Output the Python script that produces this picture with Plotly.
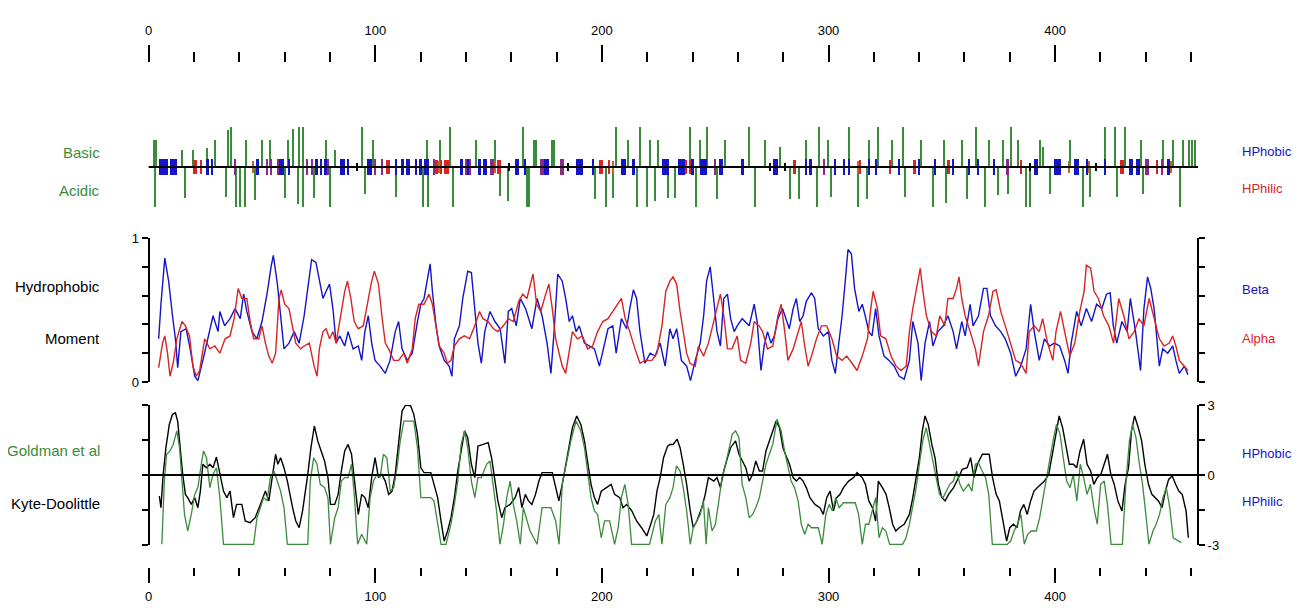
import plotly.graph_objects as go

# ---------------- data ----------------
axis_major = [0, 100, 200, 300, 400]
axis_minor = [20, 40, 60, 80, 120, 140, 160, 180, 220, 240, 260, 280,
              320, 340, 360, 380, 420, 440, 460]

# charge panel: basic (up) and acidic (down) residues, bar heights
basic_pos = [2.3, 3.5, 14.6, 19.7, 25.6, 29.3, 35.1, 36.2, 43.2, 49.9, 53.5, 61.6, 63.8,
             66.5, 68.0, 78.5, 82.2, 94.0, 99.1, 122.7, 128.6, 133.0, 144.7, 152.8, 165.3,
             170.0, 171.0, 178.0, 179.0, 206.5, 211.7, 217.1, 221.2, 224.9, 238.9, 243.3,
             246.5, 254.3, 265.0, 272.0, 278.6, 290.0, 296.0, 300.0, 309.0, 318.0, 322.0,
             328.0, 333.0, 341.0, 351.0, 359.0, 365.0, 371.0, 377.1, 380.8, 383.8, 393.3,
             394.8, 406.6, 422.0, 426.5, 430.9, 438.2, 447.7, 452.2, 456.6, 459.0, 460.5,
             462.0]
basic_h = [0.67, 0.67, 0.42, 0.42, 0.47, 0.67, 0.92, 1.0, 0.67, 0.67, 0.67, 0.67, 0.95,
           1.0, 1.0, 0.67, 0.42, 1.0, 0.67, 0.67, 0.67, 1.0, 0.67, 0.67, 1.0,
           0.67, 0.67, 0.67, 0.67, 1.0, 0.67, 1.0, 0.67, 0.67, 1.0, 0.67,
           1.0, 0.67, 1.0, 0.67, 0.5, 0.67, 1.0, 0.67, 1.0, 0.67, 1.0,
           0.67, 1.0, 0.67, 0.67, 0.67, 1.0, 0.67, 0.67, 1.0, 0.67, 0.67,
           0.5, 0.67, 1.0, 1.0, 1.0, 0.67, 0.67, 0.67, 0.67, 0.67, 0.67,
           0.67]
acidic_pos = [2.8, 16.0, 34.4, 38.8, 40.3, 42.5, 46.9, 60.2, 66.0, 68.2, 73.0, 80.0, 95.5,
              109.4, 121.2, 123.4, 134.4, 155.0, 158.7, 167.0, 168.0, 197.0, 202.1, 205.0,
              215.4, 219.8, 223.4, 229.3, 232.3, 241.8, 250.7, 267.6, 283.0, 287.0, 295.0,
              301.0, 313.0, 317.0, 334.0, 346.0, 352.0, 361.0, 369.0, 375.0, 379.3, 387.4,
              388.9, 397.7, 412.4, 415.4, 427.2, 438.9, 455.1]
acidic_h = [-1.0, -0.78, -0.75, -1.0, -1.0, -1.0, -0.83, -0.78, -0.92, -1.0, -0.78, -1.0, -0.67,
            -0.75, -1.0, -1.0, -1.0, -0.73, -0.85, -1.0, -1.0, -0.8, -1.0, -0.78,
            -1.0, -1.0, -0.85, -0.78, -0.78, -1.0, -0.8, -1.0, -0.8, -0.8, -1.0,
            -0.75, -1.0, -0.8, -0.75, -1.0, -0.9, -0.8, -1.0, -0.7, -0.67, -1.0,
            -1.0, -0.67, -1.0, -0.75, -0.75, -0.67, -1.0]
hphobic_pos = [5, 6, 7, 8, 10, 11, 12, 26, 28, 48, 58, 59, 62, 74, 76, 78, 85, 86, 88, 97, 98,
               109, 112, 114, 115, 118, 120, 122, 123, 138, 141, 146, 148, 149, 162, 163, 166,
               175, 176, 189, 190, 191, 196, 209, 210, 214, 227, 228, 229, 234, 235, 236, 240,
               244, 245, 246, 252, 253, 262, 276, 277, 290, 292, 303, 307, 309, 318, 321, 331,
               340, 347, 355, 362, 366, 373, 391, 392, 400, 401, 402, 409, 410, 414, 422, 433,
               434, 436, 437, 450]
hphilic_pos = [20, 21, 23, 105, 106, 127, 129, 131, 132, 154, 155, 199, 200, 203, 237, 239,
               285, 314, 327, 338, 353, 385, 429, 430, 445]
amphi_pos = [38, 52, 54, 57, 70, 72, 79, 100, 103, 126, 140, 142, 151, 152, 173, 174, 182,
             183, 250, 298, 379, 440, 441, 447]
orange_pos = [46, 128, 153, 205, 313, 406, 415, 451]
neutral_pos = [92, 159, 185, 274, 281, 389, 418]

# hydrophobic moment (0..1)
beta_x = [4.4, 5.4, 7.1, 8.8, 10.5, 11.8, 12.8, 14.2, 16.5, 18.3, 20.3, 21.7, 23.9, 26.2, 28.4,
          30.6, 31.4, 33.5, 35.9, 38.1, 40.4, 41.9, 43.3, 45.6, 47.7, 50.0, 52.2, 54.0, 55.0,
          56.8, 58.2, 59.7, 61.9, 64.2, 66.4, 68.6, 70.2, 71.9, 73.8, 75.3, 76.9, 78.3, 79.8,
          81.3, 82.7, 84.3, 86.5, 88.0, 90.2, 92.5, 94.0, 95.4, 96.9, 98.4, 99.9, 102.1, 104.4,
          106.5, 108.8, 110.3, 111.8, 114.1, 116.3, 118.6, 120.1, 121.5, 123.0, 124.2, 125.2,
          126.8, 128.2, 130.4, 132.6, 133.8, 134.9, 137.1, 138.6, 140.8, 142.4, 143.9, 145.3,
          146.8, 148.3, 150.6, 152.8, 155.1, 157.2, 158.7, 160.2, 162.2, 164.0, 166.3, 167.6,
          169.1, 171.4, 173.6, 175.8, 177.5, 178.9, 180.5, 182.5, 184.0, 185.6, 187.0, 188.6,
          190.0, 192.3, 194.5, 196.7, 198.9, 201.2, 202.7, 204.8, 206.3, 208.6, 210.9, 212.3,
          213.9, 215.3, 216.8, 219.0, 221.3, 223.5, 225.7, 227.9,
          230.0, 231.4, 233.0, 235.1, 237.4, 239.1, 241.2, 243.4, 244.9, 246.2, 247.8, 249.3,
          250.8, 252.3, 253.8, 255.4, 256.8, 258.4, 259.7, 261.9, 265.0, 267.2, 268.5, 270.2,
          271.6, 273.1, 274.6, 276.1, 277.7, 279.7, 281.3, 282.7, 284.4, 285.8, 287.3, 288.8,
          290.2, 292.5, 293.9, 295.5, 297.7, 300.0, 301.5, 303.0, 304.4, 306.0, 307.4, 308.6,
          310.1, 311.5, 313.4, 314.9, 316.2, 317.8, 319.2, 320.8, 322.3, 324.5, 326.7, 329.0,
          331.2, 333.4, 335.7, 337.2, 339.5, 340.9, 342.6, 344.6, 346.1, 348.3, 350.7, 352.7,
          355.0, 356.5, 358.8, 360.3, 362.5, 363.8, 366.2, 368.4, 369.9, 371.5, 373.7, 376.0,
          378.0, 380.4, 382.6, 384.8, 387.2, 389.2, 390.8, 393.0, 395.3, 397.5, 399.7, 402.0,
          404.2, 405.7, 407.1, 409.5, 411.5, 413.8, 416.1, 418.3, 420.6, 422.7, 424.3, 425.7,
          427.2, 429.5, 431.8, 433.2, 435.5, 437.7, 439.2, 440.8, 442.2, 443.7, 446.0, 447.5,
          449.7, 451.9, 453.3, 454.8, 457.1, 458.6]
beta_y = [0.30, 0.54, 0.86, 0.70, 0.46, 0.30, 0.10, 0.35, 0.37, 0.23, 0.04, 0.01, 0.15, 0.32, 0.46,
          0.35, 0.49, 0.39, 0.44, 0.51, 0.44, 0.61, 0.49, 0.35, 0.30, 0.42, 0.61, 0.80, 0.88,
          0.68, 0.44, 0.23, 0.27, 0.35, 0.27, 0.46, 0.65, 0.85, 0.83, 0.70, 0.58, 0.63, 0.68,
          0.51, 0.27, 0.32, 0.25, 0.35, 0.23, 0.25, 0.15, 0.35, 0.46, 0.27, 0.15, 0.11, 0.06,
          0.15, 0.35, 0.42, 0.23, 0.15, 0.20, 0.42, 0.54, 0.58, 0.70, 0.82, 0.63,
          0.39, 0.25, 0.15, 0.11, 0.04, 0.30, 0.39, 0.58, 0.77, 0.76, 0.49, 0.27,
          0.13, 0.35, 0.49, 0.42, 0.37, 0.13, 0.49, 0.51, 0.39, 0.58, 0.51, 0.44,
          0.37, 0.58, 0.46, 0.27, 0.06, 0.35, 0.75, 0.70, 0.58, 0.42, 0.46, 0.35,
          0.39, 0.27, 0.25, 0.23, 0.11, 0.27, 0.37, 0.39, 0.20, 0.44, 0.37, 0.51,
          0.64, 0.58, 0.35, 0.13, 0.20, 0.18, 0.27, 0.11,
          0.37, 0.30, 0.37, 0.15, 0.11, 0.01, 0.15, 0.27, 0.46, 0.70, 0.80, 0.58,
          0.35, 0.25, 0.58, 0.61, 0.44, 0.35, 0.39, 0.44, 0.39, 0.54, 0.42, 0.08,
          0.25, 0.35, 0.27, 0.32, 0.44, 0.51, 0.44, 0.37, 0.51, 0.58, 0.42, 0.46,
          0.56, 0.62, 0.58, 0.37, 0.32, 0.35, 0.15, 0.06, 0.25, 0.46, 0.70, 0.92,
          0.89, 0.65, 0.49, 0.54, 0.46, 0.35, 0.32, 0.51, 0.32, 0.18, 0.15, 0.11,
          0.04, 0.02, 0.15, 0.42, 0.27, 0.01, 0.27, 0.42, 0.25, 0.35, 0.39, 0.46,
          0.35, 0.23, 0.42, 0.32, 0.54, 0.39, 0.46, 0.65, 0.65, 0.46, 0.39, 0.35,
          0.30, 0.20, 0.04, 0.11, 0.23, 0.54, 0.35, 0.15, 0.30, 0.25, 0.27, 0.25,
          0.15, 0.06, 0.27, 0.49, 0.39, 0.51, 0.42, 0.54, 0.51, 0.61, 0.62, 0.39,
          0.27, 0.42, 0.35, 0.58, 0.35, 0.08, 0.51, 0.73, 0.65, 0.51, 0.11, 0.23,
          0.20, 0.25, 0.15, 0.06, 0.11, 0.05]

alpha_x = [4.4, 6.1, 7.1, 8.3, 9.4, 10.8, 12.4, 13.6, 14.7, 16.2, 18.0, 19.5, 21.0, 22.5, 24.7,
           27.0, 29.2, 31.4, 33.7, 35.9, 37.7, 39.5, 41.1, 43.3, 44.8, 46.3, 48.6, 50.0, 51.5,
           53.0, 54.5, 56.0, 57.5, 58.5, 60.0, 61.9, 63.5, 64.9, 67.1, 68.6, 70.9, 73.0, 74.3,
           75.3, 76.9, 78.3, 79.8, 81.3, 82.7, 84.8, 86.5, 87.7, 89.2, 90.7, 92.5, 94.7, 96.9,
           98.4, 99.6, 101.4, 102.9, 104.4, 105.9, 108.1, 110.3, 112.6, 114.1, 116.3, 117.6,
           119.2, 121.5, 123.7, 125.2, 126.8, 128.2, 130.4, 131.8, 133.4, 134.9, 137.1, 139.3,
           141.6, 143.9, 146.0, 147.5, 149.8, 152.1, 154.1, 156.5, 158.7, 160.9, 163.3, 165.1,
           166.9, 168.3, 169.6, 171.2, 173.0, 175.2, 176.6, 178.1, 179.6, 181.1, 182.5, 184.0,
           185.6, 187.0, 189.2, 191.4, 193.7, 195.9, 198.1, 200.4, 202.7, 204.8, 207.2, 208.6,
           210.3, 212.3, 214.6, 216.8, 219.0, 222.1, 224.3, 226.5, 228.2,
           230.0, 231.4, 233.0, 234.5, 235.9, 237.4, 238.9, 241.2, 242.6, 244.9, 247.0, 249.3,
           250.8, 252.3, 253.8, 255.4, 257.4, 259.7, 261.2, 263.5, 265.7, 267.2, 269.4, 270.9,
           273.1, 275.4, 277.7, 279.1, 280.7, 282.1, 284.4, 286.6, 288.0, 289.5, 291.0, 292.5,
           294.7, 296.9, 299.2, 301.5, 303.6, 306.0, 308.0, 310.4, 312.6, 314.9, 317.2, 318.5,
           319.7, 321.6, 323.0, 325.3, 327.6, 329.8, 332.0, 334.3, 335.7, 337.2, 338.7, 340.5,
           341.5, 343.2, 345.4, 347.6, 349.1, 351.3, 352.7, 355.0, 356.5, 357.6, 358.8, 360.3,
           362.5, 364.8, 366.2, 368.4, 370.6, 372.6, 374.0, 376.0, 378.0, 380.4, 382.6, 384.8,
           387.2, 388.6, 390.8, 393.0, 394.5, 396.7, 399.0, 400.4, 402.4, 404.2, 406.5, 408.7,
           410.9, 412.8, 413.8, 415.7, 417.2, 419.1, 421.4, 423.7, 425.8, 428.1, 430.3, 432.6,
           434.9, 437.0, 439.2, 441.5, 443.7, 446.0, 448.1, 450.4, 451.9, 453.3, 454.8, 457.1,
           458.6]
alpha_y = [0.10, 0.27, 0.32, 0.20, 0.04, 0.13, 0.30, 0.37, 0.42, 0.39, 0.32, 0.11, 0.04, 0.08, 0.30,
           0.23, 0.25, 0.20, 0.30, 0.32, 0.44, 0.65, 0.58, 0.58, 0.42, 0.30, 0.30, 0.39, 0.27,
           0.18, 0.13, 0.20, 0.58, 0.64, 0.54, 0.51, 0.39, 0.27, 0.23, 0.25, 0.27, 0.11, 0.04,
           0.23, 0.35, 0.37, 0.30, 0.35, 0.27, 0.46, 0.63, 0.70, 0.58, 0.42, 0.37, 0.39, 0.58,
           0.70, 0.77, 0.68, 0.46, 0.27, 0.23, 0.15, 0.15, 0.20, 0.13, 0.23, 0.44,
           0.54, 0.54, 0.61, 0.54, 0.37, 0.25, 0.20, 0.13, 0.15, 0.25, 0.30, 0.32,
           0.30, 0.39, 0.49, 0.44, 0.42, 0.37, 0.35, 0.39, 0.44, 0.42, 0.56, 0.61,
           0.58, 0.68, 0.75, 0.54, 0.49, 0.61, 0.68, 0.51, 0.30, 0.20, 0.11, 0.06,
           0.20, 0.35, 0.30, 0.32, 0.23, 0.25, 0.35, 0.42, 0.44, 0.49, 0.54, 0.58,
           0.44, 0.35, 0.23, 0.13, 0.15, 0.15, 0.20, 0.39, 0.63,
           0.70, 0.73, 0.68, 0.49, 0.35, 0.20, 0.13, 0.11, 0.25, 0.18, 0.27, 0.42,
           0.51, 0.61, 0.46, 0.23, 0.23, 0.32, 0.15, 0.13, 0.27, 0.42, 0.39, 0.35,
           0.23, 0.25, 0.46, 0.54, 0.35, 0.15, 0.23, 0.35, 0.42, 0.25, 0.11, 0.18,
           0.30, 0.39, 0.39, 0.30, 0.18, 0.15, 0.18, 0.13, 0.08, 0.18, 0.30, 0.49,
           0.63, 0.51, 0.32, 0.30, 0.18, 0.11, 0.08, 0.11, 0.35, 0.51, 0.63, 0.79,
           0.65, 0.46, 0.35, 0.32, 0.46, 0.39, 0.58, 0.58, 0.65, 0.73, 0.58, 0.46,
           0.35, 0.23, 0.11, 0.35, 0.46, 0.63, 0.64, 0.49, 0.39, 0.27, 0.15, 0.13,
           0.06, 0.35, 0.39, 0.35, 0.44, 0.27, 0.15, 0.35, 0.49, 0.35, 0.18, 0.27,
           0.49, 0.63, 0.81, 0.79, 0.63, 0.58, 0.46, 0.39, 0.27, 0.58, 0.46, 0.30,
           0.35, 0.44, 0.39, 0.58, 0.44, 0.30, 0.25, 0.27, 0.32, 0.25, 0.15, 0.11,
           0.08]

# hydropathy (-3..3)
kd_x = [4.7, 5.4, 6.4, 7.6, 9.1, 10.5, 11.8, 12.8, 13.6, 15.0, 16.2, 17.2, 18.8, 20.3, 21.7, 22.8,
        23.9, 25.4, 27.0, 28.4, 29.9, 31.4, 33.0, 34.5, 35.9, 37.4, 38.8, 41.1, 42.6, 44.8, 47.0,
        49.3, 51.5, 53.0, 54.5, 56.0, 57.0, 58.2, 59.7, 61.2, 63.5, 64.9, 66.4, 67.9, 70.2, 71.6,
        73.1, 74.6, 76.1, 77.6, 79.1, 80.2, 82.1, 83.6, 85.0, 86.5, 88.0, 89.5, 91.0, 92.5, 94.0,
        95.4, 96.9, 98.4, 99.9, 101.4, 102.9, 104.4, 105.9, 107.4, 108.8, 110.3, 111.8, 113.4,
        115.6, 117.0, 118.6, 120.1, 121.5, 124.5, 125.9, 127.5, 129.0, 130.4, 131.9, 133.4, 134.9,
        136.4, 137.9, 139.4, 140.8, 142.4, 143.9, 145.3, 147.6, 149.8, 151.3, 152.8, 154.1, 155.8,
        157.2, 159.5, 161.7, 163.3, 164.7, 166.2, 167.6, 169.1, 170.7, 172.2, 173.6, 178.1, 179.6,
        181.0, 182.5, 184.0, 185.6, 187.0, 188.9, 190.7, 192.3, 193.7, 195.2, 196.7, 198.1, 199.7,
        201.8, 204.1, 205.6, 207.9, 209.3, 210.9, 213.2, 215.3, 217.5, 219.8, 221.3, 222.9, 224.3,
        225.7, 227.2, 229.0,
        230.0, 231.4, 233.2, 234.5, 235.9, 237.4, 239.0, 240.3, 241.9, 244.1, 245.6, 247.0, 249.4,
        250.8, 252.3, 253.8, 255.4, 256.8, 259.0, 260.5, 262.0, 263.5, 265.0, 266.5, 267.9, 269.5,
        270.9, 272.4, 273.9, 275.4, 276.9, 278.4, 279.9, 281.3, 282.8, 284.4, 285.8, 287.3, 288.8,
        290.2, 291.8, 294.0, 296.2, 297.7, 299.2, 300.7, 302.2, 303.6, 305.1, 306.6, 308.9, 311.1,
        312.6, 314.9, 316.3, 317.8, 319.4, 320.8, 322.0, 323.8, 325.4, 326.8, 328.3, 329.7, 331.2,
        333.4, 335.7, 337.2, 338.7, 340.1, 341.4, 342.6, 344.0, 345.6, 347.0, 348.5, 350.0, 351.5,
        353.0, 355.2, 357.4, 359.0, 361.2, 362.7, 364.2, 365.7, 367.9, 370.9, 372.4, 374.0, 375.4,
        377.0, 378.6, 380.0, 381.6, 383.2, 384.7, 386.2, 387.7, 389.2, 390.7, 392.2, 393.8, 395.3,
        397.2, 398.8, 400.3, 401.8, 403.3, 404.8, 406.3, 408.1, 409.5, 411.0, 412.6, 414.1, 415.7,
        417.1, 418.6, 420.2, 421.7, 423.1, 424.6, 426.1, 427.7, 429.5, 430.9, 432.4, 433.7, 435.1,
        436.7, 438.2, 439.6, 441.2, 442.7, 444.1, 445.6, 447.2, 448.7, 450.1, 451.7, 453.2, 454.6,
        456.1, 457.8, 458.8]
kd_y = [-0.90, -1.40, 0.03, 1.17, 2.17, 2.60, 2.67, 2.30, 1.46, 0.03, -0.83, -0.97, -1.26, -0.97, -1.40, -0.69,
        0.46, 0.31, 0.46, 0.31, 0.77, 0.03, -0.69, -0.97, -0.69, -1.83, -1.26, -1.26, -1.97, -2.04, -1.83,
        -1.26, -0.69, -1.11, -0.11, 0.89, 0.46, 0.74, 0.31, -0.26, -1.40, -1.97, -2.26, -1.54, 0.03, 1.17,
        2.10, 1.46, 1.03, 0.60, -0.11, -1.26, -1.26, -0.83, 0.17, 1.03, 1.31, 0.89, -0.40, -1.69, -0.83,
        -0.97, -1.40, -0.11, 0.74, -0.11, 0.03, -0.26, -0.83, -0.69, 0.03, 1.46, 2.74, 3.00,
        2.96, 2.60, 1.74, 0.31, 0.10, 0.10, -0.40, -0.97, -1.97, -2.83, -2.40, -1.83, -0.97,
        0.17, 1.03, 1.89, 1.60, 0.46, -0.11, 1.24, 1.31, 1.39, 0.74, -0.26, -1.11, -1.83,
        -1.40, -1.26, -0.97, -0.54, -1.40, -0.83, -1.11, -1.26, -0.83, -0.26, 0.10, 0.10, -0.54,
        -1.11, -0.40, 0.46, 1.31, 2.03, 2.53, 2.17, 1.46, 0.46, -0.40, -0.97, -1.26, -0.69,
        -0.54, -0.40, -0.83, -0.97, -1.40, -1.26, -1.54, -1.97, -2.26, -2.61, -2.19, -1.69, -0.69,
        -0.11, 0.74, 1.24,
        1.31, 1.31, 1.53, 1.17, 0.46, -0.40, -1.54, -2.26, -1.97, -1.40, -0.83, -0.11, -0.26,
        -0.11, -0.54, 0.17, 0.74, 1.17, 1.46, 0.89, 0.60, 0.31, -0.26, 0.03, 0.60, 0.17,
        0.17, 1.03, 1.46, 1.89, 2.31, 2.03, 1.17, 0.81, 0.46, -0.11, -0.26, -0.11, -0.26,
        -0.54, -0.97, -1.26, -1.40, -1.69, -0.97, -0.69, -1.54, -0.97, -0.83, -0.54, -0.26, -0.11,
        0.10, -0.11, -0.40, -1.11, -1.40, -1.97, -0.26, -0.54, -0.83, -1.40, -2.11, -2.40, -2.26,
        -2.11, -1.69, -0.97, -0.11, 0.74, 1.89, 2.53, 2.17, 1.31, 0.74, -0.40, -0.97, -1.11,
        -0.83, -0.54, -0.11, 0.24, 0.31, 0.74, -0.11, 0.46, 0.89, 0.89, -0.11, -0.83, -1.11,
        -1.97, -2.83, -2.26, -2.11, -2.26, -1.54, -1.26, -1.69, -1.11, -0.69, -0.54, -0.40, -0.26,
        0.03, 0.89, 1.60, 2.53, 2.03, 1.17, 0.46, 0.46, 0.31, 1.03, 1.53, 0.46, 0.17,
        -0.40, -0.11, 0.03, 0.46, 0.89, 0.03, -0.40, -1.11, -1.54, -0.40, 0.31, 1.89, 2.53,
        2.03, 1.46, 0.46, -0.40, -0.83, -0.97, -1.11, -1.40, -0.69, -0.19, -0.04, -0.40, -0.69,
        -0.83, -1.54, -2.69]

gold_x = [5.8, 6.9, 7.9, 9.4, 10.8, 12.4, 13.6, 14.7, 15.8, 17.2, 18.8, 20.3, 21.7, 23.2, 24.2, 25.5,
          27.0, 28.4, 29.9, 31.4, 33.0, 46.3, 47.8, 49.3, 50.7, 52.2, 53.7, 55.3, 56.8, 58.2, 59.7,
          61.2, 70.2, 71.3, 72.8, 74.3, 75.7, 77.6, 79.1, 80.2, 82.1, 83.6, 85.0, 86.5, 88.0, 89.5,
          90.7, 92.2, 94.0, 96.2, 97.7, 99.2, 100.7, 102.1, 103.6, 105.1, 106.6, 108.1, 109.6, 111.0,
          112.6, 114.8, 117.0, 118.6, 120.1, 122.3, 124.5, 125.9, 127.5, 129.0, 131.2, 133.4, 134.9,
          136.4, 137.9, 139.4, 140.8, 142.4, 143.9, 145.3, 146.8, 149.1, 150.6, 152.1, 153.5, 155.0,
          156.6, 158.0, 159.5, 160.9, 162.4, 164.0, 165.3, 168.3, 171.4, 173.6, 177.5, 179.6, 181.1,
          182.5, 184.0, 186.3, 188.6, 190.7, 192.3, 193.7, 195.2, 196.7, 198.1, 199.7, 201.2, 203.4,
          205.6, 207.2, 208.6, 210.1, 211.6, 213.1, 221.0, 223.6, 225.1, 226.5, 228.2,
          230.0, 231.4, 232.9, 234.5, 235.9, 237.4, 239.0, 240.3, 243.4, 244.8, 246.0, 247.0, 248.6,
          250.1, 251.6, 253.0, 254.6, 256.1, 257.5, 259.0, 260.5, 261.9, 263.5, 265.0, 266.5, 267.9,
          269.5, 270.9, 272.4, 273.9, 275.4, 277.3, 279.1, 280.6, 282.1, 283.5, 285.0, 286.6, 288.0,
          289.5, 291.0, 292.5, 295.5, 297.2, 298.8, 300.3, 301.7, 303.2, 304.7, 306.6, 311.8, 313.3,
          314.9, 316.3, 317.8, 319.3, 320.8, 322.3, 323.8, 325.3, 327.0, 332.7, 334.2, 335.7, 337.2,
          338.7, 340.1, 341.6, 343.1, 344.6, 346.1, 347.6, 349.0, 350.6, 352.1, 353.5, 355.1, 356.6,
          358.0, 359.5, 361.8, 363.3, 364.8, 366.2, 367.8, 369.3, 370.7, 372.3, 378.9, 380.4, 381.9,
          383.4, 384.9, 386.4, 387.9, 389.4, 391.7, 393.2, 394.7, 396.2, 397.7, 399.1, 400.6, 402.2,
          403.6, 405.1, 406.6, 408.0, 409.6, 411.1, 412.6, 414.1, 415.6, 417.1, 418.6, 420.1, 421.7,
          423.1, 424.7, 429.7, 431.3, 432.8, 434.2, 435.7, 437.2, 438.6, 440.2, 441.4, 443.2, 444.6,
          446.1, 447.6, 449.1, 450.6, 452.1, 453.5, 455.7]
gold_y = [-2.97, -0.26, 0.89, 1.03, 1.31, 1.89, 1.17, -0.26, -1.69, -2.40, -1.69, -0.83, -0.54, 0.46, 1.03, 0.74,
          -0.54, 0.03, 0.31, -0.97, -2.97, -2.97, -1.83, -1.40, -0.97, -1.11, -0.11, 0.17, -0.26, -0.69, -1.40,
          -2.97, -2.97, -0.26, 0.74, 0.46, -0.40, -0.54, -0.97, -2.97, -1.83, -1.40, -0.26, -0.11, -0.11, 0.46,
          -0.83, -2.97, -2.54, -2.97, -0.97, -0.26, 0.03, -0.11, 0.89, 0.74, -0.69, -0.54, 0.31, 1.46,
          2.31, 2.31, 2.31, 1.17, -0.97, -0.97, -0.97, -1.11, -2.11, -2.97, -2.97, -2.11, -1.26,
          -0.26, 1.31, 1.89, 1.17, -0.26, -0.97, -0.11, -0.11, 0.46, 0.60, -0.40, -1.54, -2.97,
          -2.11, -0.97, -0.26, -1.26, -1.97, -2.97, -1.40, -2.40, -2.97, -1.40, -1.40, -1.97, -2.97,
          -0.40, 0.31, 1.46, 2.31, 1.89, 1.17, 0.03, -0.97, -1.54, -1.69, -2.69, -1.97, -1.97,
          -2.97, -2.26, -0.97, -0.40, -1.26, -2.97, -2.97, -1.97, -1.69, -2.97, -1.26,
          -0.97, -0.54, 0.39, 0.17, -0.54, -1.54, -2.97, -2.26, -1.69, -1.11, -2.97, -1.40, -2.40,
          -2.11, -1.11, -0.11, 0.46, 1.17, 1.74, 1.89, 1.60, -0.40, -0.97, -1.83, -1.69, -1.40,
          -0.97, -0.26, 0.46, 0.89, 1.31, 2.39, 1.89, 1.03, 0.31, -0.26, -0.54, -1.11, -2.11,
          -2.54, -2.11, -2.26, -2.26, -2.97, -1.69, -1.26, -1.54, -0.97, -1.40, -1.19, -1.19, -1.69,
          -2.97, -2.11, -2.11, -1.54, -0.97, -2.69, -2.26, -2.40, -2.97, -2.97, -2.69, -2.11, -1.26,
          -0.54, 0.46, 1.46, 2.03, 1.31, 0.46, -0.11, -0.83, -0.97, -0.69, -0.40, -0.26, 0.17,
          -0.40, -0.69, -0.40, -0.69, 0.46, 0.53, 0.17, -0.11, -0.83, -2.97, -2.97, -2.83, -2.40,
          -2.11, -1.69, -2.97, -2.54, -2.40, -2.40, -1.83, -0.97, -0.11, 0.74, 1.46, 2.17, 1.74,
          0.74, -0.26, -0.54, 0.03, -1.11, 0.46, -0.11, -0.83, -0.40, -1.40, -2.11, -0.40, -0.26,
          -1.26, -2.97, -2.97, -0.26, 1.46, 2.17, 1.60, 0.46, -0.40, -1.83, -2.97, -2.40, -2.11,
          -1.69, -0.97, -0.54, -1.40, -2.69, -2.76, -2.90]

# ---------------- geometry / style ----------------
W, H = 1301, 610
OFF = 8                               # page body margin of the html page
PX0, PPR = 148.7 - OFF, 2.266         # figure pixel of residue 0, pixels per residue
XMIN = -PX0 / PPR
XMAX = XMIN + W / PPR
RIGHT_PX = 1198.0 - OFF
RIGHT_R = (RIGHT_PX - PX0) / PPR


def fy(py):
    """reference-image pixel row -> paper fraction"""
    return 1 - (py - OFF) / H


def fx(px):
    return (px - OFF) / W


GREEN = "#3a8c3a"
BLUE = "#1414c8"
RED = "#d82424"
PURPLE = "#8a2a8a"
ORANGE = "#c8641e"
FONT = "Liberation Sans, Arial, sans-serif"

fig = go.Figure()

# charge panel bars
fig.add_trace(go.Bar(x=basic_pos, y=basic_h, base=0, width=0.6, marker=dict(color=GREEN, line_width=0),
                     xaxis="x", yaxis="y"))
fig.add_trace(go.Bar(x=acidic_pos, y=acidic_h, base=0, width=0.6, marker=dict(color=GREEN, line_width=0),
                     xaxis="x", yaxis="y"))
short_sets = [(hphobic_pos, BLUE, 0.21, 1.0), (hphilic_pos, RED, 0.17, 1.0),
              (amphi_pos, PURPLE, 0.19, 0.9), (orange_pos, ORANGE, 0.16, 0.9),
              (neutral_pos, "black", 0.11, 0.9)]
for pos, col, hh, wd in short_sets:
    fig.add_trace(go.Bar(x=pos, y=[2 * hh] * len(pos), base=-hh, width=wd,
                         marker=dict(color=col, line_width=0), xaxis="x", yaxis="y"))

# moment
fig.add_trace(go.Scatter(x=beta_x, y=beta_y, mode="lines", line=dict(color=BLUE, width=1.4),
                         xaxis="x", yaxis="y2"))
fig.add_trace(go.Scatter(x=alpha_x, y=alpha_y, mode="lines", line=dict(color=RED, width=1.4),
                         xaxis="x", yaxis="y2"))
# hydropathy
fig.add_trace(go.Scatter(x=kd_x, y=kd_y, mode="lines", line=dict(color="black", width=1.4),
                         xaxis="x", yaxis="y4"))
fig.add_trace(go.Scatter(x=gold_x, y=gold_y, mode="lines", line=dict(color=GREEN, width=1.3),
                         xaxis="x", yaxis="y4"))

# empty helper traces so every axis is drawn
for xa, ya in [("x2", "y"), ("x3", "y"), ("x", "y3"), ("x", "y5")]:
    fig.add_trace(go.Scatter(x=[None], y=[None], xaxis=xa, yaxis=ya, mode="lines",
                             hoverinfo="skip"))

tickfont = dict(family=FONT, size=13, color="black")
x_common = dict(range=[XMIN, XMAX], showgrid=False, zeroline=False, showline=False,
                automargin=False, fixedrange=True)

top_minor = dict(tickvals=axis_minor, ticklen=10, tickwidth=2, tickcolor="black", ticks="outside")
bot_minor = dict(tickvals=axis_minor, ticklen=8, tickwidth=2, tickcolor="black", ticks="outside")

y_common = dict(showgrid=False, zeroline=False, showline=True, linecolor="black", linewidth=2,
                ticks="outside", ticklen=6, tickwidth=2, tickcolor="black", tickfont=tickfont,
                anchor="free", fixedrange=True, automargin=False)

fig.update_layout(
    width=W, height=H, margin=dict(l=0, r=0, t=0, b=0, autoexpand=False),
    paper_bgcolor="white", plot_bgcolor="white",
    showlegend=False, barmode="overlay", bargap=0,
    xaxis=dict(**x_common, domain=[0, 1], anchor="y", showticklabels=False, ticks=""),
    xaxis2=dict(**x_common, overlaying="x", anchor="free", position=fy(61.5), side="top",
                tickvals=axis_major, ticktext=[str(v) for v in axis_major], ticks="outside",
                ticklen=17, tickwidth=2, tickcolor="black", tickfont=tickfont,
                ticklabelstandoff=4, minor=top_minor),
    xaxis3=dict(**x_common, overlaying="x", anchor="free", position=fy(567), side="bottom",
                tickvals=axis_major, ticktext=[str(v) for v in axis_major], ticks="outside",
                ticklen=15, tickwidth=2, tickcolor="black", tickfont=tickfont,
                ticklabelstandoff=2, minor=bot_minor),
    yaxis=dict(domain=[fy(207), fy(127)], range=[-1, 1], visible=False, fixedrange=True),
    yaxis2=dict(**y_common, domain=[fy(382), fy(238)], range=[0, 1], position=PX0 / W,
                side="left", tickvals=[0, 0.2, 0.4, 0.6, 0.8, 1.0],
                ticktext=["0", "", "", "", "", "1"]),
    yaxis3=dict(**y_common, range=[0, 1], overlaying="y2", position=RIGHT_PX / W, side="right",
                tickvals=[0, 0.2, 0.4, 0.6, 0.8, 1.0], showticklabels=False),
    yaxis4=dict(**y_common, domain=[fy(545), fy(405)], range=[-3, 3], position=PX0 / W,
                side="left", tickvals=[-3, -1.5, 0, 1.5, 3], showticklabels=False),
    yaxis5=dict(**y_common, range=[-3, 3], overlaying="y4", position=RIGHT_PX / W, side="right",
                tickvals=[-3, -1.5, 0, 1.5, 3], ticktext=["-3", "", "0", "", "3"]),
)

# baselines
fig.add_shape(type="line", xref="x", yref="y", x0=0, x1=RIGHT_R, y0=0, y1=0,
              line=dict(color="black", width=2))
fig.add_shape(type="line", xref="x", yref="y4", x0=0, x1=RIGHT_R, y0=0, y1=0,
              line=dict(color="black", width=2))

labels = [
    ("Basic", 102, 153, GREEN, "right", 15),
    ("Acidic", 102, 190, GREEN, "right", 15),
    ("Hydrophobic", 102, 286, "black", "right", 15),
    ("Moment", 102, 338, "black", "right", 15),
    ("Goldman et al", 102, 450, GREEN, "right", 15),
    ("Kyte-Doolittle", 102, 503, "black", "right", 15),
    ("HPhobic", 1240, 152, BLUE, "left", 13),
    ("HPhilic", 1240, 189, RED, "left", 13),
    ("Beta", 1240, 289, BLUE, "left", 13),
    ("Alpha", 1240, 338, RED, "left", 13),
    ("HPhobic", 1240, 453, BLUE, "left", 13),
    ("HPhilic", 1240, 501, BLUE, "left", 13),
]
for txt, px, py, col, anc, sz in labels:
    fig.add_annotation(text=txt, xref="paper", yref="paper", x=fx(px), y=fy(py),
                       xanchor=anc, yanchor="middle", showarrow=False,
                       font=dict(family=FONT, size=sz, color=col))

fig.write_html("out.html")
